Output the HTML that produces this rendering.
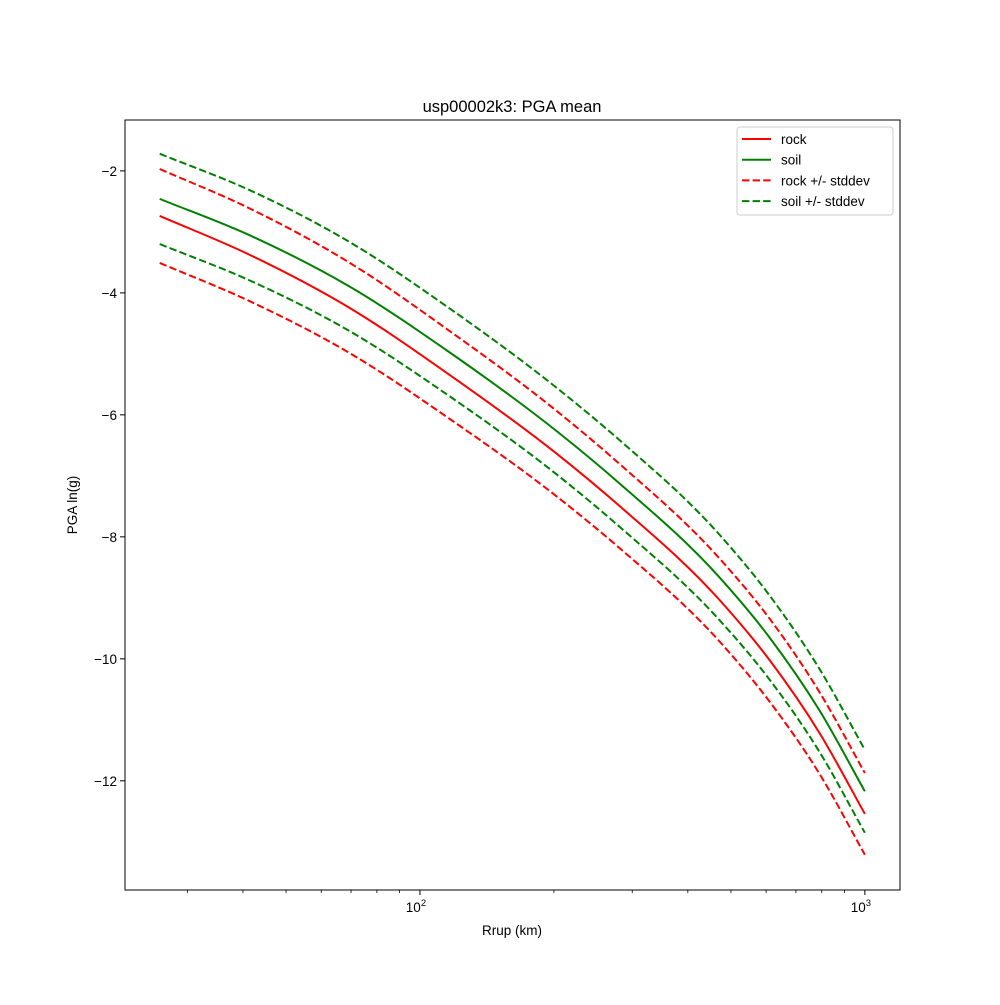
<!DOCTYPE html>
<html><head><meta charset="utf-8"><style>
body{margin:0;background:#fff}
svg text{font-family:"Liberation Sans","DejaVu Sans",sans-serif;fill:#000}
</style></head><body>
<svg id="chart" width="1000" height="1000">
<rect x="0" y="0" width="1000" height="1000" fill="#fff"/>
<text x="512" y="112" font-size="16.5" text-anchor="middle">usp00002k3: PGA mean</text>
<text x="512" y="935" font-size="13.5" text-anchor="middle">Rrup (km)</text>
<text x="77" y="505" font-size="13.5" text-anchor="middle" transform="rotate(-90 77 505)">PGA ln(g)</text>
<g id="marks"></g>
<g id="axes"></g>
</svg>
<script>
const distances = [26.0, 41.5, 69.6, 116.8, 206.4, 281.6, 472.5, 612, 792.6, 1000];
const rockMean = [-2.739, -3.379, -4.250, -5.350, -6.680, -7.501, -9.044, -10.030, -11.228, -12.542];
const soilMean = [-2.459, -3.059, -3.900, -4.980, -6.310, -7.131, -8.674, -9.660, -10.858, -12.172];
const rockSigma = [0.77, 0.76, 0.74, 0.72, 0.70, 0.69, 0.68, 0.68, 0.67, 0.67];
const soilSigma = [0.74, 0.74, 0.73, 0.72, 0.71, 0.71, 0.70, 0.69, 0.68, 0.68];
const yTicks = [-2, -4, -6, -8, -10, -12];
const xMajor = [100, 1000];
const xMinor = [30,40,50,60,70,80,90,200,300,400,500,600,700,800,900];

const L=125,R=900,T=120,B=890;
const lxmin=1.337,lxmax=3.079,ymin=-13.79,ymax=-1.166;
const xs=d=>L+(Math.log10(d)-lxmin)/(lxmax-lxmin)*(R-L);
const ys=v=>T+(ymax-v)/(ymax-ymin)*(B-T);
const NS='http://www.w3.org/2000/svg';
const marks=document.getElementById('marks'),axes=document.getElementById('axes');
function mk(tag,attrs,parent){const e=document.createElementNS(NS,tag);for(const k in attrs)e.setAttribute(k,attrs[k]);parent.appendChild(e);return e;}
function smoothPath(pts){
  const n=pts.length,sec=[],m=[];
  for(let i=0;i<n-1;i++)sec.push((pts[i+1][1]-pts[i][1])/(pts[i+1][0]-pts[i][0]));
  for(let i=0;i<n;i++){
    if(i===0)m.push(sec[0]);else if(i===n-1)m.push(sec[n-2]);
    else{const h0=pts[i][0]-pts[i-1][0],h1=pts[i+1][0]-pts[i][0];m.push((sec[i-1]*h1+sec[i]*h0)/(h0+h1));}
  }
  let d='M'+pts[0][0].toFixed(2)+','+pts[0][1].toFixed(2);
  for(let i=0;i<n-1;i++){
    const h=(pts[i+1][0]-pts[i][0])/3;
    d+='C'+(pts[i][0]+h).toFixed(2)+','+(pts[i][1]+m[i]*h).toFixed(2)+' '+(pts[i+1][0]-h).toFixed(2)+','+(pts[i+1][1]-m[i+1]*h).toFixed(2)+' '+pts[i+1][0].toFixed(2)+','+pts[i+1][1].toFixed(2);
  }
  return d;
}
function line(vals,color,dash,name){
  const pts=vals.map((v,i)=>[xs(distances[i]),ys(v)]);
  const p=mk('path',{d:smoothPath(pts),fill:'none',stroke:color,'stroke-width':2},marks);
  if(dash)p.setAttribute('stroke-dasharray','7.4,3.2');
  
  
}
line(rockMean.map((v,i)=>v+rockSigma[i]),'#ff0000',true,'rock-plus-stddev-line');
line(rockMean.map((v,i)=>v-rockSigma[i]),'#ff0000',true,'rock-minus-stddev-line');
line(soilMean.map((v,i)=>v+soilSigma[i]),'#008000',true,'soil-plus-stddev-line');
line(soilMean.map((v,i)=>v-soilSigma[i]),'#008000',true,'soil-minus-stddev-line');
line(rockMean,'#ff0000',false,'rock-mean-line');
line(soilMean,'#008000',false,'soil-mean-line');

const frame=mk('rect',{x:L,y:T,width:R-L,height:B-T,fill:'none',stroke:'#000','stroke-width':1},axes);


yTicks.forEach(v=>{
  const y=ys(v);
  mk('line',{x1:L-5,x2:L,y1:y,y2:y,stroke:'#000','stroke-width':1},axes);
  const t=mk('text',{x:L-8,y:y+5,'font-size':13.5,'text-anchor':'end'},axes);
  t.textContent='\u2212'+Math.abs(v);
  
  
});
xMajor.forEach(d=>{
  const x=xs(d);
  mk('line',{x1:x,x2:x,y1:B,y2:B+5,stroke:'#000','stroke-width':1},axes);
  const t=mk('text',{x:x-4,y:B+22,'font-size':13.5,'text-anchor':'middle'},axes);
  t.textContent='10';
  const s=mk('tspan',{dy:-6,'font-size':9.5},t);
  s.textContent=String(Math.round(Math.log10(d)));
  
  
});
xMinor.forEach(d=>{
  const x=xs(d);
  mk('line',{x1:x,x2:x,y1:B,y2:B+3,stroke:'#000','stroke-width':0.8},axes);
});

const lg=mk('g',{},axes);


mk('rect',{x:737,y:127,width:156,height:88,rx:3,fill:'#fff','fill-opacity':0.8,stroke:'#cccccc','stroke-width':1},lg);
const entries=[['rock','#ff0000',false],['soil','#008000',false],['rock +/- stddev','#ff0000',true],['soil +/- stddev','#008000',true]];
entries.forEach((e,i)=>{
  const y=139+i*20.7;
  const g=mk('g',{},lg);
  
  
  const l=mk('line',{x1:742,x2:771,y1:y,y2:y,stroke:e[1],'stroke-width':2},g);
  if(e[2])l.setAttribute('stroke-dasharray','7.4,3.2');
  const t=mk('text',{x:781,y:y+5,'font-size':13.5},g);
  t.textContent=e[0];
});
</script>
</body></html>
